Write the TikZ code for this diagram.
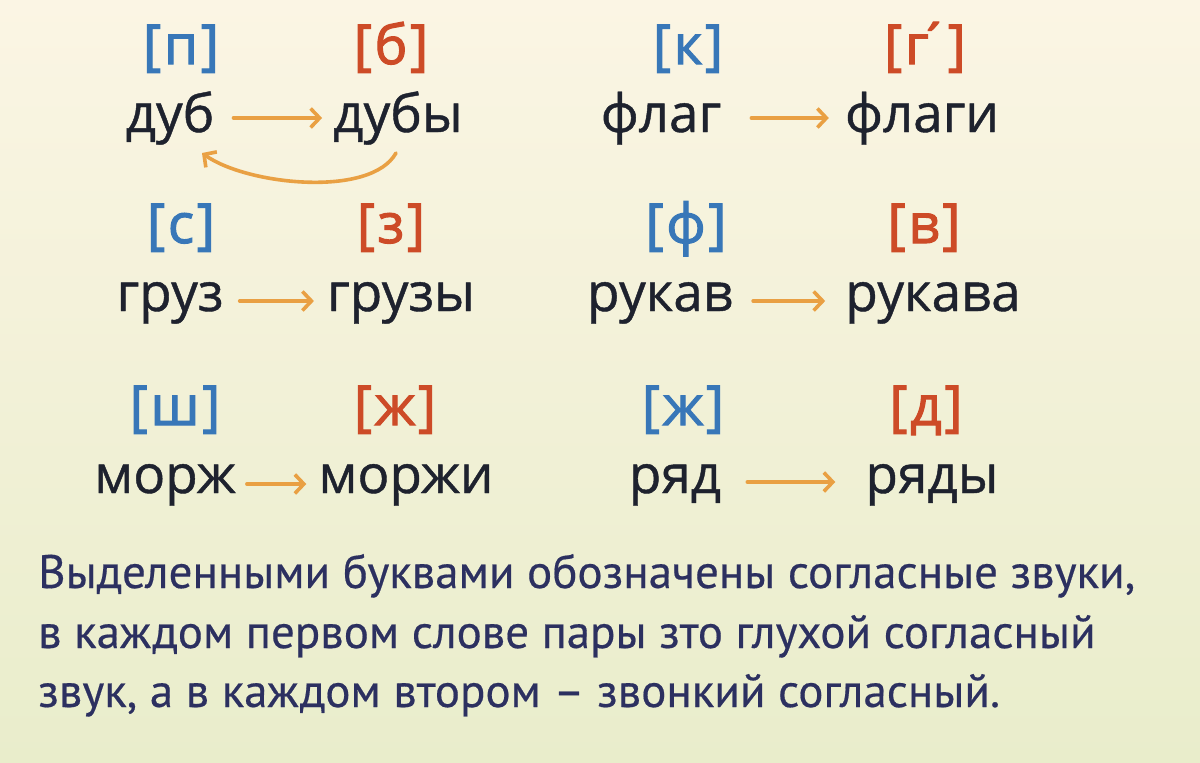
\documentclass[tikz,border=0pt]{standalone}
\usepackage{fontspec}
\setmainfont{Open Sans}
\newfontfamily\wordfont[FakeBold=0.8]{Open Sans}
\newfontfamily\botfont[FakeBold=0.4]{PT Sans}
\newfontfamily\labfont[FakeBold=2]{Open Sans}
\usetikzlibrary{arrows.meta}
\definecolor{bgA}{HTML}{FBF5E4}
\definecolor{bgB}{HTML}{F4F3E2}
\definecolor{bgC}{HTML}{E9EDCB}
\definecolor{wordc}{HTML}{1E222E}
\definecolor{botc}{HTML}{2C3060}
\definecolor{bluec}{HTML}{3877B8}
\definecolor{redc}{HTML}{CD4B27}
\definecolor{arrc}{HTML}{E9A043}
\newcommand{\lb}[1]{[\kern.05em#1\kern.05em]}
\begin{document}
\begin{tikzpicture}[x=1pt,y=-1pt,
  word/.style={anchor=base, font=\wordfont\fontsize{53}{58}\selectfont, text=wordc, inner sep=0pt},
  labb/.style={anchor=base, font=\labfont\fontsize{55}{58}\selectfont, text=bluec, inner sep=0pt},
  labr/.style={anchor=base, font=\labfont\fontsize{55}{58}\selectfont, text=redc, inner sep=0pt},
  bot/.style={anchor=base west, font=\botfont\fontsize{47}{52}\selectfont, text=botc, inner sep=0pt},
  conn/.style={draw=arrc, line width=3.6pt, line cap=round, -{Straight Barb[length=9pt,width=19pt,line width=3.6pt]}}
]
\useasboundingbox (0,0) rectangle (1200,763);
\fill[top color=bgA, middle color=bgB, bottom color=bgC] (0,0) rectangle (1200,763);

% row 1
\node[labb] (l1) at (181,64) {\lb{п}};
\node[labr] (l2) at (391,64) {\lb{б}};
\node[labb] (l3) at (688,64) {\lb{к}};
\node[labr] (l4) at (925,64) {\lb{г\kern-0.2em´\kern-0.08em}};
\node[word] (w1) at (170,132) {дуб};
\node[word] (w2) at (398,132) {дубы};
\node[word] (w3) at (661,132) {флаг};
\node[word] (w4) at (922,132) {флаги};

% row 2
\node[labb] (l5) at (181,243) {\lb{с}};
\node[labr] (l6) at (391,243) {\lb{з}};
\node[labb] (l7) at (686,243) {\lb{ф}};
\node[labr] (l8) at (924,243) {\lb{в}};
\node[word] (w5) at (170,311) {груз};
\node[word] (w6) at (401,311) {грузы};
\node[word] (w7) at (660,311) {рукав};
\node[word] (w8) at (933,311) {рукава};

% row 3
\node[labb] (l9) at (175,425) {\lb{ш}};
\node[labr] (l10) at (395,425) {\lb{ж}};
\node[labb] (l11) at (683,425) {\lb{ж}};
\node[labr] (l12) at (926,425) {\lb{д}};
\node[word] (w9) at (165,493) {морж};
\node[word] (w10) at (406,493) {моржи};
\node[word] (w11) at (675,493) {ряд};
\node[word] (w12) at (932,493) {ряды};

% arrows
\draw[conn] ([xshift=19pt,yshift=14pt]w1.base east) -- ([xshift=-11pt,yshift=14pt]w2.base west);
\draw[conn] ([xshift=30pt,yshift=14pt]w3.base east) -- ([xshift=-16pt,yshift=14pt]w4.base west);
\draw[conn] ([xshift=16pt,yshift=10pt]w5.base east) -- ([xshift=-13pt,yshift=10pt]w6.base west);
\draw[conn] ([xshift=20pt,yshift=10pt]w7.base east) -- ([xshift=-20pt,yshift=10pt]w8.base west);
\draw[conn] ([xshift=11pt,yshift=9pt]w9.base east) -- ([xshift=-12pt,yshift=9pt]w10.base west);
\draw[conn] ([xshift=26pt,yshift=11pt]w11.base east) -- ([xshift=-30pt,yshift=11pt]w12.base west);
\draw[conn] ([xshift=-2pt,yshift=-21pt]w2.base) .. controls +(-25,45) and +(45,32) .. ([xshift=32pt,yshift=-21pt]w1.base);

% bottom text
\node[bot] (t1) at (38,588) {Выделенными буквами обозначены согласные звуки,};
\node[bot] (t2) at (38,648) {в каждом первом слове пары зто глухой согласный};
\node[bot] (t3) at (38,707) {звук, а в каждом втором – звонкий согласный.};
\end{tikzpicture}
\end{document}
